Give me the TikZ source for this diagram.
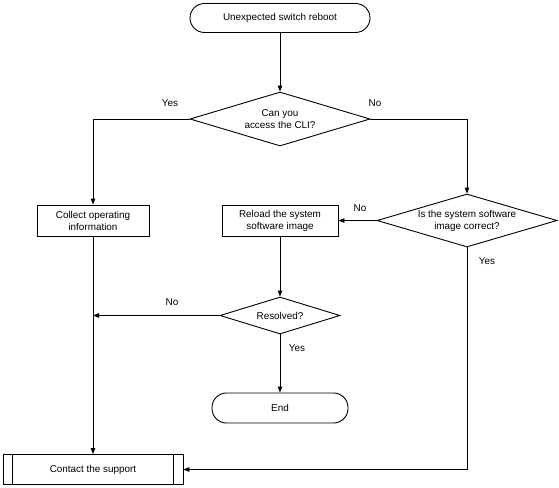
\documentclass[tikz,border=0pt]{standalone}
\usepackage{fontspec}
\setmainfont{Liberation Sans}
\usetikzlibrary{shapes.geometric,arrows.meta,calc}
\begin{document}
\begin{tikzpicture}[x=1pt,y=-1pt,
  every node/.style={font=\fontsize{9.9}{12}\selectfont, align=center},
  term/.style={draw, line width=0.9pt, rounded corners=14.5pt, inner sep=0pt},
  proc/.style={draw, line width=0.9pt, inner sep=0pt, minimum width=112pt, minimum height=31pt},
  dec/.style={draw, line width=0.9pt, diamond, inner sep=0pt},
  txt/.style={inner sep=0pt},
  lbl/.style={inner sep=0pt},
  conn/.style={line width=0.9pt, -{Triangle[length=6pt,width=4.5pt]}},
  plain/.style={line width=0.9pt}]
\useasboundingbox (0,0) rectangle (559,487);
\node[term, minimum width=180pt, minimum height=29pt] (start) at (280,18) {Unexpected switch reboot};
\node[dec, minimum width=180pt, minimum height=54pt] (d1) at (280,119) {};
\node[txt] (d1t) at (d1.center) {Can you\\access the CLI?};
\node[proc] (collect) at (93,220.5) {Collect operating\\information};
\node[proc, minimum width=116pt] (reload) at (280,220.5) {Reload the system\\software image};
\node[dec, minimum width=180pt, minimum height=53pt] (d2) at (467,220.5) {};
\node[txt] (d2t) at (d2.center) {Is the system software\\image correct?};
\node[dec, minimum width=120pt, minimum height=37pt] (res) at (280,315.5) {};
\node[txt] (rest) at (res.center) {Resolved?};
\node[term, minimum width=136pt, minimum height=30pt] (end) at (280,408) {End};
\node[proc, minimum width=180pt, minimum height=30pt] (contact) at (93,469.5) {Contact the support};
\draw[plain] ($(contact.north west)+(10,0)$) -- ($(contact.south west)+(10,0)$);
\draw[plain] ($(contact.north east)+(-10,0)$) -- ($(contact.south east)+(-10,0)$);
\coordinate (j) at (collect.south |- res.west);
\draw[conn] (start) -- (d1);
\draw[conn] (d1.west) -| (collect.north);
\draw[conn] (d1.east) -| (d2.north);
\draw[conn] (d2.west) -- (reload.east);
\draw[conn] (reload) -- (res);
\draw[conn] (res.west) -- (j);
\draw[conn] (res) -- (end);
\draw[conn] (collect) -- (contact);
\draw[conn] (d2.south) |- (contact.east);
\node[lbl] (l1) at (170,103) {Yes};
\node[lbl] (l2) at (375,103) {No};
\node[lbl] (l3) at (360,208) {No};
\node[lbl] (l4) at (487,261) {Yes};
\node[lbl] (l5) at (172,302) {No};
\node[lbl] (l6) at (297,348) {Yes};
\end{tikzpicture}
\end{document}
